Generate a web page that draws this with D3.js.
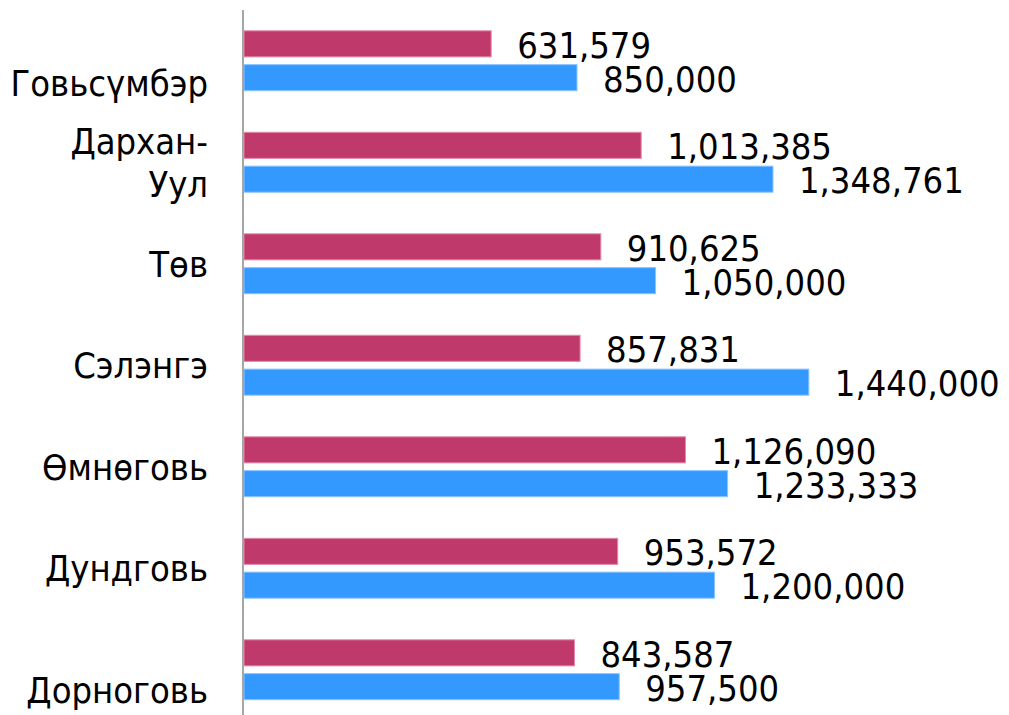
<!DOCTYPE html>
<html>
<head>
<meta charset="utf-8">
<script src="https://cdn.jsdelivr.net/npm/d3@7"></script>
<style>
  body { margin: 0; background: #fff; }
  text { font-family: "DejaVu Sans Condensed", "DejaVu Sans", sans-serif; font-stretch: condensed; fill: #000; }
</style>
</head>
<body>
<div id="chart"></div>
<script>
// aimags, top to bottom
var categories = ["Говьсүмбэр", "Дархан-Уул", "Төв", "Сэлэнгэ", "Өмнөговь", "Дундговь", "Дорноговь"];
// two series per aimag
var seriesNames = ["red", "blue"];
var redValues  = [631579, 1013385, 910625, 857831, 1126090, 953572, 843587];
var blueValues = [850000, 1348761, 1050000, 1440000, 1233333, 1200000, 957500];
// wrapped category labels
var labelLines = {"Дархан-Уул": ["Дархан-", "Уул"]};

var colors = {red: "#C0396B", blue: "#3399FF"};
var strokes = {red: "#E48AAA", blue: "#8CC4FF"};

var width = 1009, height = 715;
var margin = {top: 10, left: 243};

var data = categories.map(function(c, i) {
    return {cat: c, red: redValues[i], blue: blueValues[i]};
});

var svg = d3.select("#chart")
    .append("svg")
    .attr("width", width)
    .attr("height", height);

// scales
var x = d3.scaleLinear().domain([0, 850000]).range([margin.left, 577]);
var y = d3.scaleBand().domain(categories).range([margin.top, 720.5])
    .paddingInner(0.4).paddingOuter(0.2);
var ySub = d3.scaleBand().domain(seriesNames).range([0, y.bandwidth()]).paddingInner(0.2);

var fmt = d3.format(",");
var fontSize = 36;

var groups = svg.selectAll("g.cat")
    .data(data)
    .enter().append("g")
    .attr("class", "cat")
    .attr("transform", function(d) { return "translate(0," + y(d.cat) + ")"; });

groups.selectAll("rect")
    .data(function(d) { return seriesNames.map(function(s) { return {s: s, v: d[s]}; }); })
    .enter().append("rect")
    .attr("x", x(0) + 1)
    .attr("y", function(d) { return ySub(d.s) + 0.5; })
    .attr("width", function(d) { return x(d.v) - x(0) - 1; })
    .attr("height", ySub.bandwidth() - 1)
    .attr("fill", function(d) { return colors[d.s]; })
    .attr("stroke", function(d) { return strokes[d.s]; })
    .attr("stroke-width", 1);

// value labels
groups.selectAll("text.val")
    .data(function(d) { return seriesNames.map(function(s) { return {s: s, v: d[s]}; }); })
    .enter().append("text")
    .attr("class", "val")
    .attr("x", function(d) { return x(d.v) + 26; })
    .attr("y", function(d) { return ySub(d.s) + ySub.bandwidth() / 2 + 14; })
    .style("font-size", fontSize + "px")
    .text(function(d) { return fmt(d.v); });

// category labels (first/last are pushed down a bit like the original)
var catLabels = svg.selectAll("text.cat")
    .data(data)
    .enter().append("text")
    .attr("class", "cat")
    .attr("text-anchor", "end")
    .style("font-size", fontSize + "px")
    .attr("transform", function(d, i) {
        var cy = y(d.cat) + y.bandwidth() / 2;
        if (i === 0) cy += 22;
        if (i === categories.length - 1) cy += 20;
        var lines = labelLines[d.cat] || [d.cat];
        cy -= (lines.length - 1) * 43 / 2;
        return "translate(208," + (cy + 13) + ")";
    });

catLabels.selectAll("tspan")
    .data(function(d) { return labelLines[d.cat] || [d.cat]; })
    .enter().append("tspan")
    .attr("x", 0)
    .attr("dy", function(d, i) { return i === 0 ? 0 : 43; })
    .text(function(d) { return d; });

// vertical category axis line
svg.append("line")
    .attr("x1", x(0)).attr("x2", x(0))
    .attr("y1", margin.top).attr("y2", height)
    .attr("stroke", "#A6A6A6")
    .attr("stroke-width", 2);
</script>
</body>
</html>
